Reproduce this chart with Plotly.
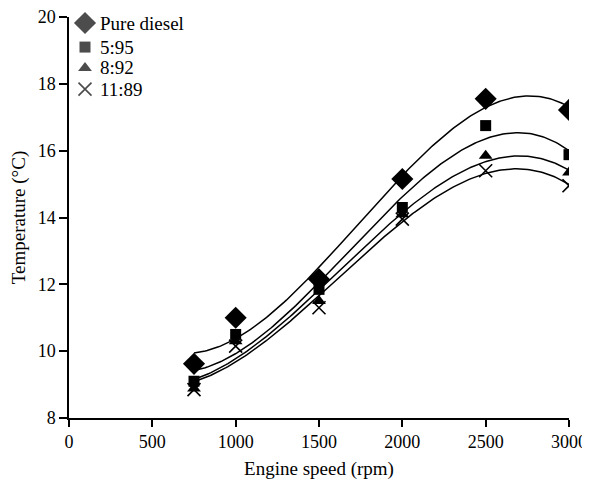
import numpy as np
import plotly.graph_objects as go

speed = [750, 1000, 1500, 2000, 2500, 3000]
series_names = ["Pure diesel", "5:95", "8:92", "11:89"]
pure_diesel = [9.62, 11.0, 12.15, 15.15, 17.55, 17.22]
blend_5_95 = [9.1, 10.5, 11.85, 14.3, 16.75, 15.88]
blend_8_92 = [8.88, 10.3, 11.5, 14.1, 15.85, 15.35]
blend_11_89 = [8.85, 10.15, 11.3, 13.95, 15.4, 14.95]
x_ticks = [0, 500, 1000, 1500, 2000, 2500, 3000]
y_ticks = [8, 10, 12, 14, 16, 18, 20]

all_series = [pure_diesel, blend_5_95, blend_8_92, blend_11_89]
symbols = ["diamond", "square", "triangle-up", "x-thin"]
sizes = [17, 11, 12, 13]

FAM = "Liberation Serif"
FS = 18
TFS = 19
fig = go.Figure()
xs = np.linspace(min(speed), max(speed), 200)
for vals in all_series:
    coef = np.polyfit(speed, vals, 3)
    fig.add_trace(go.Scatter(x=xs, y=np.polyval(coef, xs), mode="lines",
                             line=dict(color="black", width=1.5),
                             showlegend=False, hoverinfo="skip"))
for name, vals, sym, sz in zip(series_names, all_series, symbols, sizes):
    mk = dict(symbol=sym, size=sz, color="black")
    if sym == "x-thin":
        mk["line"] = dict(color="black", width=1.6)
    fig.add_trace(go.Scatter(x=speed, y=vals, mode="markers", name=name, marker=mk,
                             showlegend=False))

# Legend drawn on an overlay (0..1) axis so its row spacing matches the original
leg_x_marker = 0.032
leg_x_text = 0.057
leg_rows = [0.985, 0.925, 0.873, 0.820]
fig.add_trace(go.Scatter(
    x=[leg_x_marker] * len(series_names), y=leg_rows, mode="markers",
    xaxis="x2", yaxis="y2", showlegend=False, hoverinfo="skip", cliponaxis=False,
    marker=dict(symbol=symbols, size=sizes, color="black",
                line=dict(color="black", width=[0, 0, 0, 1.6]))))
for name, yv in zip(series_names, leg_rows):
    fig.add_annotation(x=leg_x_text, y=yv, xref="x2", yref="y2", text=name,
                       showarrow=False, xanchor="left", yanchor="middle",
                       font=dict(family=FAM, size=TFS, color="black"))

# page body has an 8px margin, so the figure is sized/offset to compensate
fig.update_layout(
    width=582, height=474,
    margin=dict(l=61, r=21, t=9, b=64, autoexpand=False),
    paper_bgcolor="white", plot_bgcolor="white",
    font=dict(family=FAM, size=FS, color="black"),
    showlegend=False,
    xaxis=dict(range=[0, 3000], tickvals=x_ticks, showline=True, linecolor="black",
               linewidth=1.5, ticks="outside", ticklen=7, tickwidth=1.5, tickcolor="black",
               showgrid=False, zeroline=False, automargin=False, ticklabeloverflow="allow",
               tickfont=dict(family=FAM, size=FS, color="black"),
               title=dict(text="Engine speed (rpm)", standoff=10,
                          font=dict(family=FAM, size=TFS, color="black"))),
    yaxis=dict(range=[8, 20], tickvals=y_ticks, showline=True, linecolor="black",
               linewidth=1.5, ticks="outside", ticklen=8, tickwidth=1.5, tickcolor="black",
               showgrid=False, zeroline=False, automargin=False, ticklabeloverflow="allow",
               tickfont=dict(family=FAM, size=FS, color="black"),
               title=dict(text="Temperature (°C)", standoff=14,
                          font=dict(family=FAM, size=TFS, color="black"))),
    xaxis2=dict(range=[0, 1], overlaying="x", anchor="y2", visible=False),
    yaxis2=dict(range=[0, 1], overlaying="y", anchor="x2", visible=False),
)
fig.write_html("out.html")
